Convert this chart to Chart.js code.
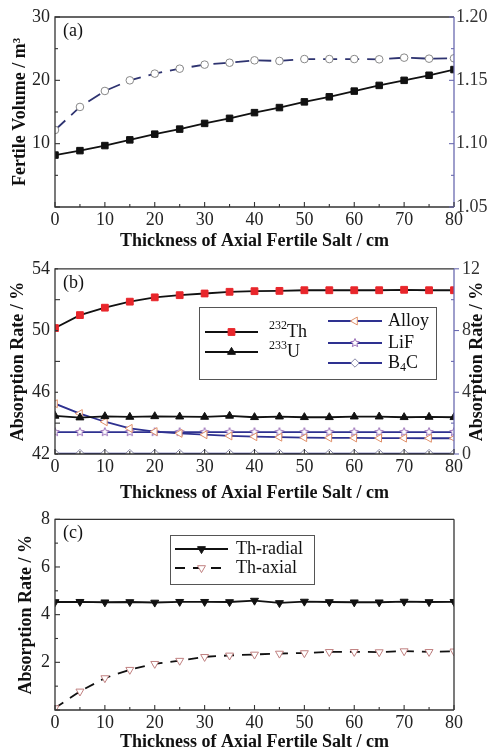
<!DOCTYPE html>
<html>
<head>
<meta charset="utf-8">
<script src="https://cdn.jsdelivr.net/npm/chart.js@4.4.1/dist/chart.umd.min.js"></script>
<style>
  html, body { margin: 0; padding: 0; background: #fff; }
  body { width: 494px; height: 751px; position: relative; overflow: hidden; }
  canvas { position: absolute; left: 0; }
</style>
</head>
<body>
<canvas id="chartA" width="494" height="250" style="top:0px"></canvas>
<canvas id="chartB" width="494" height="252" style="top:250px"></canvas>
<canvas id="chartC" width="494" height="249" style="top:502px"></canvas>
<script>
// thickness of axial fertile salt (cm)
const thickness = [0, 5, 10, 15, 20, 25, 30, 35, 40, 45, 50, 55, 60, 65, 70, 75, 80];

// (a) fertile volume (m3, left axis) and right-axis quantity
const fertileVolume = [8.2, 8.9, 9.7, 10.6, 11.5, 12.3, 13.2, 14.0, 14.9, 15.7, 16.6, 17.4, 18.3, 19.2, 20.0, 20.8, 21.7];
const rightValueA = [1.1108, 1.129, 1.1416, 1.150, 1.1553, 1.1592, 1.1624, 1.1639, 1.1658, 1.1653, 1.1668, 1.1668, 1.1668, 1.1666, 1.1679, 1.1671, 1.1674];

// (b) absorption rates (%)
const th232 = [50.16, 51.0, 51.48, 51.87, 52.15, 52.29, 52.4, 52.51, 52.55, 52.57, 52.61, 52.61, 52.61, 52.61, 52.64, 52.61, 52.61];
const u233 = [44.47, 44.36, 44.44, 44.40, 44.44, 44.42, 44.40, 44.47, 44.38, 44.42, 44.38, 44.38, 44.42, 44.42, 44.38, 44.40, 44.38];
const alloy = [3.26, 2.62, 2.09, 1.66, 1.45, 1.34, 1.25, 1.17, 1.12, 1.09, 1.06, 1.05, 1.04, 1.03, 1.03, 1.02, 1.02];
const lif = [1.42, 1.42, 1.42, 1.42, 1.42, 1.42, 1.42, 1.42, 1.42, 1.42, 1.42, 1.42, 1.42, 1.42, 1.42, 1.42, 1.42];
const b4c = [0.03, 0.03, 0.03, 0.03, 0.03, 0.03, 0.03, 0.03, 0.03, 0.03, 0.03, 0.03, 0.03, 0.03, 0.03, 0.03, 0.03];

// (c) thorium absorption rates (%)
const thRadial = [4.53, 4.54, 4.52, 4.53, 4.51, 4.54, 4.54, 4.53, 4.59, 4.49, 4.55, 4.53, 4.52, 4.52, 4.55, 4.53, 4.54];
const thAxial = [0.08, 0.78, 1.34, 1.69, 1.94, 2.07, 2.23, 2.29, 2.33, 2.37, 2.39, 2.44, 2.44, 2.43, 2.47, 2.44, 2.46];

const serif = '"Liberation Serif", "Times New Roman", serif';
const tickFont = { family: serif, size: 18 };
const titleFont = { family: serif, size: 18, weight: 'bold' };
const xTitle = 'Thickness of Axial Fertile Salt / cm';
const navy = '#2e3190';

const pts = (ys) => thickness.map((x, i) => ({ x, y: ys[i] }));

function makeStar(r, stroke) {
  const c = document.createElement('canvas');
  const s = Math.ceil(r * 2 + 3);
  c.width = s; c.height = s;
  const g = c.getContext('2d');
  g.beginPath();
  for (let i = 0; i < 10; i++) {
    const rr = i % 2 ? r * 0.45 : r;
    const a = -Math.PI / 2 + i * Math.PI / 5;
    g.lineTo(s / 2 + rr * Math.cos(a), s / 2 + rr * Math.sin(a));
  }
  g.closePath();
  g.fillStyle = '#fff'; g.fill();
  g.strokeStyle = stroke; g.lineWidth = 1; g.stroke();
  return c;
}

function drawParts(ctx, x, y, parts) {
  let cx = x;
  parts.forEach(p => {
    const small = p.s === 'sup' || p.s === 'sub';
    ctx.font = (small ? 12 : 18) + 'px ' + serif;
    const dy = p.s === 'sup' ? -6 : (p.s === 'sub' ? 5 : 0);
    ctx.fillText(p.t, cx, y + dy);
    cx += ctx.measureText(p.t).width;
  });
}

// frame, inward ticks, panel label, boxed legend, right-side title
const framePlugin = {
  id: 'frame',
  afterDraw(chart, args, o) {
    const { ctx, chartArea: a, scales } = chart;
    ctx.save();
    ctx.lineWidth = 1.3;
    ctx.strokeStyle = '#333';
    ctx.beginPath();
    ctx.moveTo(a.right, a.top); ctx.lineTo(a.left, a.top);
    ctx.lineTo(a.left, a.bottom); ctx.lineTo(a.right, a.bottom);
    ctx.stroke();
    ctx.strokeStyle = o.rightColor || '#333';
    ctx.beginPath(); ctx.moveTo(a.right, a.top); ctx.lineTo(a.right, a.bottom); ctx.stroke();

    const ticks = (scale, major, minor, draw) => {
      const n = Math.round((scale.max - scale.min) / minor);
      for (let i = 0; i <= n; i++) {
        const v = scale.min + i * minor;
        const isMajor = Math.abs(v / major - Math.round(v / major)) < 1e-6;
        draw(scale.getPixelForValue(v), isMajor ? 5 : 3, isMajor);
      }
    };
    ctx.lineWidth = 1.1;
    ctx.strokeStyle = '#333';
    ticks(scales.x, o.xMajor, o.xMinor, (p, len) => {
      ctx.beginPath(); ctx.moveTo(p, a.bottom); ctx.lineTo(p, a.bottom - len); ctx.stroke();
    });
    ticks(scales.y, o.yMajor, o.yMinor, (p, len) => {
      ctx.beginPath(); ctx.moveTo(a.left, p); ctx.lineTo(a.left + len, p); ctx.stroke();
    });
    if (scales.y2) {
      ctx.strokeStyle = o.rightColor;
      ticks(scales.y2, o.y2Major, o.y2Minor, (p, len, isMajor) => {
        const dir = o.rightOut && isMajor ? 1 : -1;
        ctx.beginPath(); ctx.moveTo(a.right, p); ctx.lineTo(a.right + dir * len, p); ctx.stroke();
      });
    }

    ctx.fillStyle = '#111';
    ctx.textBaseline = 'middle';
    ctx.textAlign = 'left';
    ctx.font = '18px ' + serif;
    ctx.fillText(o.label, a.left + 8, a.top + 14);

    if (o.rightTitle) {
      ctx.save();
      ctx.translate(o.rightTitle.x, (a.top + a.bottom) / 2);
      ctx.rotate(-Math.PI / 2);
      ctx.textAlign = 'center';
      ctx.font = 'bold 18px ' + serif;
      ctx.fillText(o.rightTitle.text, 0, 0);
      ctx.restore();
    }

    if (o.legend) {
      const L = o.legend;
      ctx.lineWidth = 1;
      ctx.strokeStyle = '#555';
      ctx.strokeRect(L.box[0] + 0.5, L.box[1] + 0.5, L.box[2] - L.box[0], L.box[3] - L.box[1]);
      L.entries.forEach(e => {
        const ds = chart.data.datasets[e.ds];
        ctx.save();
        ctx.strokeStyle = ds.borderColor;
        ctx.lineWidth = ds.borderWidth;
        ctx.setLineDash(ds.borderDash || []);
        ctx.beginPath(); ctx.moveTo(e.x0, e.y); ctx.lineTo(e.x1, e.y); ctx.stroke();
        ctx.setLineDash([]);
        ctx.fillStyle = ds.pointBackgroundColor;
        ctx.strokeStyle = ds.pointBorderColor;
        ctx.lineWidth = ds.pointBorderWidth;
        Chart.helpers.drawPoint(ctx, {
          pointStyle: ds.pointStyle, rotation: ds.pointRotation || 0,
          radius: ds.pointRadius, borderWidth: ds.pointBorderWidth
        }, (e.x0 + e.x1) / 2, e.y);
        ctx.restore();
        ctx.fillStyle = '#111';
        ctx.textBaseline = 'middle';
        ctx.textAlign = 'left';
        drawParts(ctx, e.tx, e.y, e.parts);
      });
    }
    ctx.restore();
  }
};

function xScale(height) {
  return {
    type: 'linear', min: 0, max: 80,
    ticks: { stepSize: 10, font: tickFont, color: '#222', padding: 2, maxRotation: 0, autoSkip: false },
    grid: { display: false, drawTicks: false },
    border: { display: false },
    title: { display: true, text: xTitle, font: titleFont, color: '#111', padding: { top: 0, bottom: -2 } },
    afterFit: (s) => { s.height = height; }
  };
}

function yScale(min, max, step, title, titlePad, cb) {
  return {
    position: 'left', min, max,
    ticks: { stepSize: step, font: tickFont, color: '#222', padding: 5, callback: cb },
    grid: { display: false, drawTicks: false },
    border: { display: false },
    title: { display: true, text: title, font: titleFont, color: '#111', padding: { top: titlePad, bottom: 0 } },
    afterFit: (s) => { s.width = 55; }
  };
}

function y2Scale(min, max, step, pad, cb) {
  return {
    position: 'right', min, max,
    ticks: { stepSize: step, font: tickFont, color: '#333', padding: pad, callback: cb },
    grid: { display: false, drawTicks: false },
    border: { display: false },
    afterFit: (s) => { s.width = 40; }
  };
}

const common = {
  responsive: false,
  animation: false,
  plugins: { legend: { display: false }, tooltip: { enabled: false } }
};

// (a)
new Chart(document.getElementById('chartA'), {
  type: 'line',
  data: {
    datasets: [
      {
        label: 'Fertile volume', data: pts(fertileVolume), yAxisID: 'y',
        borderColor: '#111', borderWidth: 1.8,
        pointStyle: 'rect', pointRadius: 4.6,
        pointBackgroundColor: '#111', pointBorderColor: '#111', pointBorderWidth: 1
      },
      {
        label: 'Right axis', data: pts(rightValueA), yAxisID: 'y2',
        borderColor: '#2e3370', borderWidth: 1.8, borderDash: [14, 8],
        pointStyle: 'circle', pointRadius: 3.8,
        pointBackgroundColor: '#fff', pointBorderColor: '#888', pointBorderWidth: 1
      }
    ]
  },
  options: {
    ...common,
    layout: { padding: { top: 17, left: 0, right: 0, bottom: 0 } },
    scales: {
      x: xScale(43),
      y: yScale(0, 30, 10, 'Fertile Volume / m³', 10, v => v === 0 ? '' : v),
      y2: y2Scale(1.05, 1.20, 0.05, 2, v => v.toFixed(2))
    },
    plugins: {
      ...common.plugins,
      frame: { label: '(a)', rightColor: '#6a6ab0', xMajor: 10, xMinor: 5, yMajor: 10, yMinor: 5, y2Major: 0.05, y2Minor: 0.025 }
    }
  },
  plugins: [framePlugin]
});

// (b)
new Chart(document.getElementById('chartB'), {
  type: 'line',
  data: {
    datasets: [
      {
        label: '232Th', data: pts(th232), yAxisID: 'y',
        borderColor: '#111', borderWidth: 1.8,
        pointStyle: 'rect', pointRadius: 4.8,
        pointBackgroundColor: '#e8262b', pointBorderColor: '#e8262b', pointBorderWidth: 1
      },
      {
        label: '233U', data: pts(u233), yAxisID: 'y',
        borderColor: '#111', borderWidth: 1.8,
        pointStyle: 'triangle', pointRadius: 4.6,
        pointBackgroundColor: '#111', pointBorderColor: '#111', pointBorderWidth: 1
      },
      {
        label: 'Alloy', data: pts(alloy), yAxisID: 'y2',
        borderColor: navy, borderWidth: 1.8,
        pointStyle: 'triangle', pointRotation: -90, pointRadius: 4.6,
        pointBackgroundColor: '#fff', pointBorderColor: '#e0906a', pointBorderWidth: 1
      },
      {
        label: 'LiF', data: pts(lif), yAxisID: 'y2',
        borderColor: navy, borderWidth: 1.8,
        pointStyle: makeStar(4.5, '#9a70b8'), pointRadius: 4.5,
        pointBackgroundColor: '#fff', pointBorderColor: '#9a70b8', pointBorderWidth: 1
      },
      {
        label: 'B4C', data: pts(b4c), yAxisID: 'y2',
        borderColor: navy, borderWidth: 1.8,
        pointStyle: 'rectRot', pointRadius: 4.2,
        pointBackgroundColor: '#fff', pointBorderColor: '#8888a8', pointBorderWidth: 1
      }
    ]
  },
  options: {
    ...common,
    layout: { padding: { top: 16.7, left: 0, right: 0, bottom: 0 } },
    scales: {
      x: xScale(48),
      y: yScale(42, 54, 4, 'Absorption Rate / %', 8, v => v),
      y2: y2Scale(0, 12, 4, 8, v => v)
    },
    plugins: {
      ...common.plugins,
      frame: {
        label: '(b)', rightColor: '#6a6ab0', rightOut: true,
        xMajor: 10, xMinor: 5, yMajor: 4, yMinor: 2, y2Major: 4, y2Minor: 2,
        rightTitle: { x: 477, text: 'Absorption Rate / %' },
        legend: {
          box: [199, 57, 436, 129],
          entries: [
            { ds: 0, x0: 205, x1: 258, y: 82, tx: 269, parts: [{ t: '232', s: 'sup' }, { t: 'Th' }] },
            { ds: 1, x0: 205, x1: 258, y: 102, tx: 269, parts: [{ t: '233', s: 'sup' }, { t: 'U' }] },
            { ds: 2, x0: 328, x1: 382, y: 71, tx: 388, parts: [{ t: 'Alloy' }] },
            { ds: 3, x0: 328, x1: 382, y: 93, tx: 388, parts: [{ t: 'LiF' }] },
            { ds: 4, x0: 328, x1: 382, y: 113, tx: 388, parts: [{ t: 'B' }, { t: '4', s: 'sub' }, { t: 'C' }] }
          ]
        }
      }
    }
  },
  plugins: [framePlugin]
});

// (c)
new Chart(document.getElementById('chartC'), {
  type: 'line',
  data: {
    datasets: [
      {
        label: 'Th-radial', data: pts(thRadial), yAxisID: 'y',
        borderColor: '#111', borderWidth: 1.8,
        pointStyle: 'triangle', pointRotation: 180, pointRadius: 4.6,
        pointBackgroundColor: '#111', pointBorderColor: '#111', pointBorderWidth: 1
      },
      {
        label: 'Th-axial', data: pts(thAxial), yAxisID: 'y',
        borderColor: '#111', borderWidth: 1.8, borderDash: [10, 8],
        pointStyle: 'triangle', pointRotation: 180, pointRadius: 4.6,
        pointBackgroundColor: '#fff', pointBorderColor: '#c08080', pointBorderWidth: 1
      }
    ]
  },
  options: {
    ...common,
    layout: { padding: { top: 17.3, left: 0, right: 40, bottom: 0 } },
    scales: {
      x: xScale(41),
      y: yScale(0, 8, 2, 'Absorption Rate / %', 16, v => v === 0 ? '' : v)
    },
    plugins: {
      ...common.plugins,
      frame: {
        label: '(c)', rightColor: '#333',
        xMajor: 10, xMinor: 5, yMajor: 2, yMinor: 1,
        legend: {
          box: [170, 33, 314, 82],
          entries: [
            { ds: 0, x0: 175, x1: 228, y: 47, tx: 236, parts: [{ t: 'Th-radial' }] },
            { ds: 1, x0: 175, x1: 228, y: 66, tx: 236, parts: [{ t: 'Th-axial' }] }
          ]
        }
      }
    }
  },
  plugins: [framePlugin]
});
</script>
</body>
</html>
